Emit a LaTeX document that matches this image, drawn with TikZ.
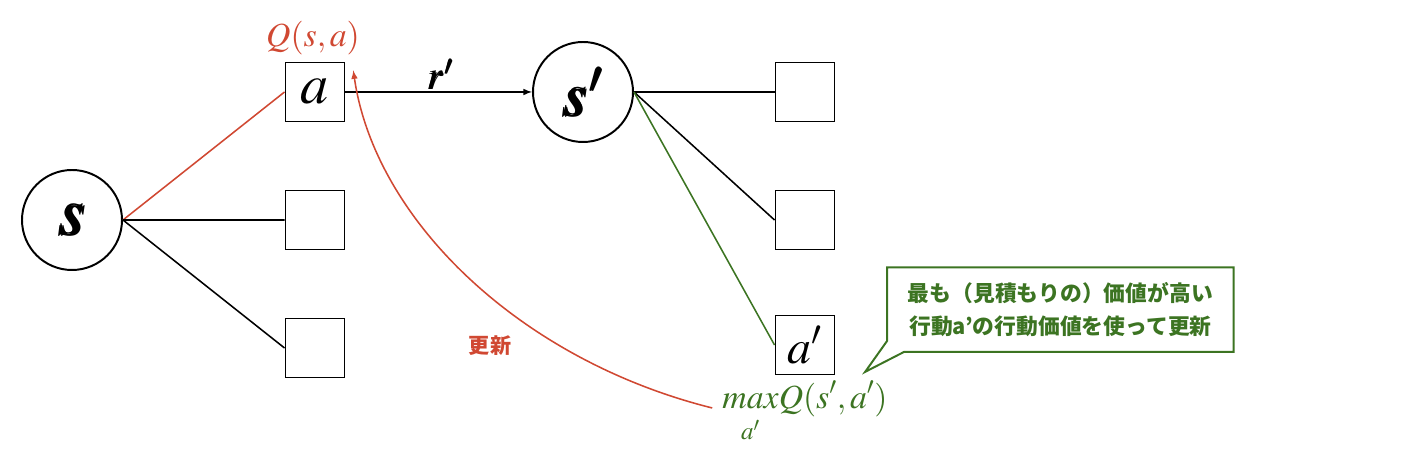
\documentclass[tikz,border=0pt]{standalone}
\usepackage{mathptmx}
\usepackage{bm}
\usepackage{fontspec}
\newfontfamily\jpfont{Noto Sans CJK JP}
\usetikzlibrary{arrows,calc}
\definecolor{qred}{RGB}{208,72,50}
\definecolor{qgreen}{RGB}{60,116,34}

\begin{document}
\begin{tikzpicture}[node distance = 3.2cm, line width=1.1pt,
    stnode/.style={circle, draw=black, line width=1.4pt, minimum size=2.5cm, inner sep=0pt},
    actbox/.style={rectangle, draw=black, line width=1.4pt, minimum size=1.475cm, inner sep=0pt}]
  \useasboundingbox (0,0) rectangle (35.65,-11.3);

  \node[stnode] (s) at (1.8,-5.5) {\fontsize{48}{48}\selectfont$\bm{s}$};
  \node[actbox] (a) at (7.875,-2.3) {\fontsize{40}{40}\selectfont$a$};
  \node[actbox, below of=a] (b2) {};
  \node[actbox, below of=b2] (b3) {};

  \node[stnode] (sp) at (14.575,-2.3) {\fontsize{44}{44}\selectfont$\bm{s'}$};
  \node[actbox, right of=sp, node distance=5.55cm] (c1) {};
  \node[actbox, below of=c1] (c2) {};
  \node[actbox, below of=c2, node distance=3.125cm] (ap) {\fontsize{34}{34}\selectfont$a'$};

  \node[text=qred] (q) at (7.825,-0.95) {\fontsize{24}{24}\selectfont$Q(s,a)$};
  \node (r) at (11,-1.85) {\fontsize{27}{27}\selectfont$\bm{r'}$};
  \node[text=qred] (upd) at (12.25,-8.63) {\fontsize{15}{15}\selectfont\jpfont\bfseries 更新};
  \node[text=qgreen, anchor=base] (mq) at (20.125,-10.22)
    {\fontsize{24}{24}\selectfont$\displaystyle\mathop{max}\limits_{\rule{0pt}{0.72em}a'}\!Q(s',a')$};

  \draw[qred] (s.east) -- (a.west);
  \draw (s.east) -- (b2.west);
  \draw (s.east) -- (b3.west);
  \draw[-latex] (a.east) -- (sp.west);
  \draw (sp.east) -- (c1.west);
  \draw (sp.east) -- (c2.west);
  \draw[qgreen] (sp.east) -- (ap.west);

  % update arrow back to Q(s,a)
  \coordinate (tip) at ($(q.south east)+(-0.3,-0.25)$);
  \draw[qred, -latex] ([xshift=-0.12cm, yshift=0.1cm]mq.west) .. controls (13,-9) and (9.375,-5.5) .. (tip);

  % callout
  \node[text=qgreen, align=center, minimum width=8.625cm, minimum height=2.075cm,
    font={\jpfont\bfseries\fontsize{15.5}{22.8}\selectfont}] (note) at (26.51,-7.74)
    {最も（見積もりの）価値が高い\\行動a’の行動価値を使って更新};
  \draw[qgreen, line width=1.4pt] (note.north west) -- (note.north east) -- (note.south east)
    -- ($(note.south west)+(0.425,0)$) -- ($(note.south west)+(-0.55,-0.5)$)
    -- ($(note.south west)+(0,0.275)$) -- cycle;
\end{tikzpicture}
\end{document}
